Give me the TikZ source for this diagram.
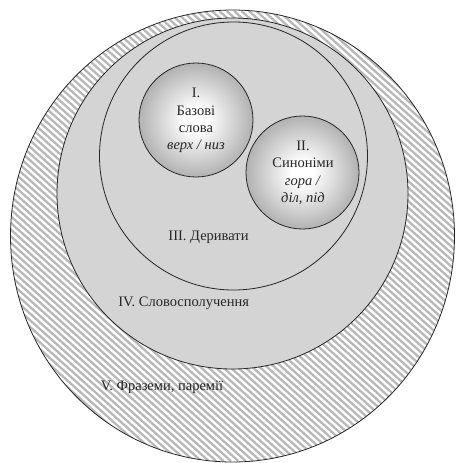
\documentclass[tikz,border=0pt]{standalone}
\usepackage{fontspec}
\setmainfont{Liberation Serif}

\pgfdeclareradialshading{ballshade}{\pgfpoint{0bp}{0bp}}{%
  color(0bp)=(white); color(5bp)=(white); color(36bp)=(black!47); color(50bp)=(black!47)}

\begin{document}
\begin{tikzpicture}[
  x=1pt, y=1pt,
  ring/.style={draw=black!85, line width=0.8pt},
  hatch/.style={draw=black!28, line width=2.3pt},
  ball/.style={ring, shading=ballshade},
  lbl/.style={font=\fontsize{14.5}{17.3}\selectfont, text=black!85, align=center, inner sep=0pt}
]
\useasboundingbox (0,0) rectangle (456,-463);
\clip (0,0) rectangle (456,-463);

% ---- V: outer hatched ring ----
\begin{scope}
  \clip (232.5,-236) ellipse [x radius=222, y radius=226];
  \foreach \i in {-48,...,48}
    \draw[hatch] ({232.5+\i*7.4-250},{-236+225}) -- ++(500,-450);
\end{scope}
\draw[ring] (232.5,-236) ellipse [x radius=222, y radius=226];

% ---- IV and III: grey discs ----
\draw[ring, fill=black!17] (232.5,-193.5) circle (175.5);
\draw[ring, fill=black!17] (233.5,-156) circle (134);

% ---- I and II: shaded balls ----
\draw[ball] (196,-120) circle (57);
\draw[ball] (302.5,-172.5) circle (56.5);

% Labels
\node[lbl] (basic) at (196,-120.5)
  {I.\\Базові\\слова\\\textit{верх / низ}};
\node[lbl] (synon) at (303,-173)
  {II.\\Синоніми\\\textit{гора /}\\\textit{діл, під}};
\node[lbl, anchor=base] (deriv) at (208.5,-240.7) {III. Деривати};
\node[lbl, anchor=base] (colloc) at (183.7,-306.7) {IV. Словосполучення};
\node[lbl, anchor=base] (phras) at (162,-390) {V. Фраземи, паремії};

\end{tikzpicture}
\end{document}
